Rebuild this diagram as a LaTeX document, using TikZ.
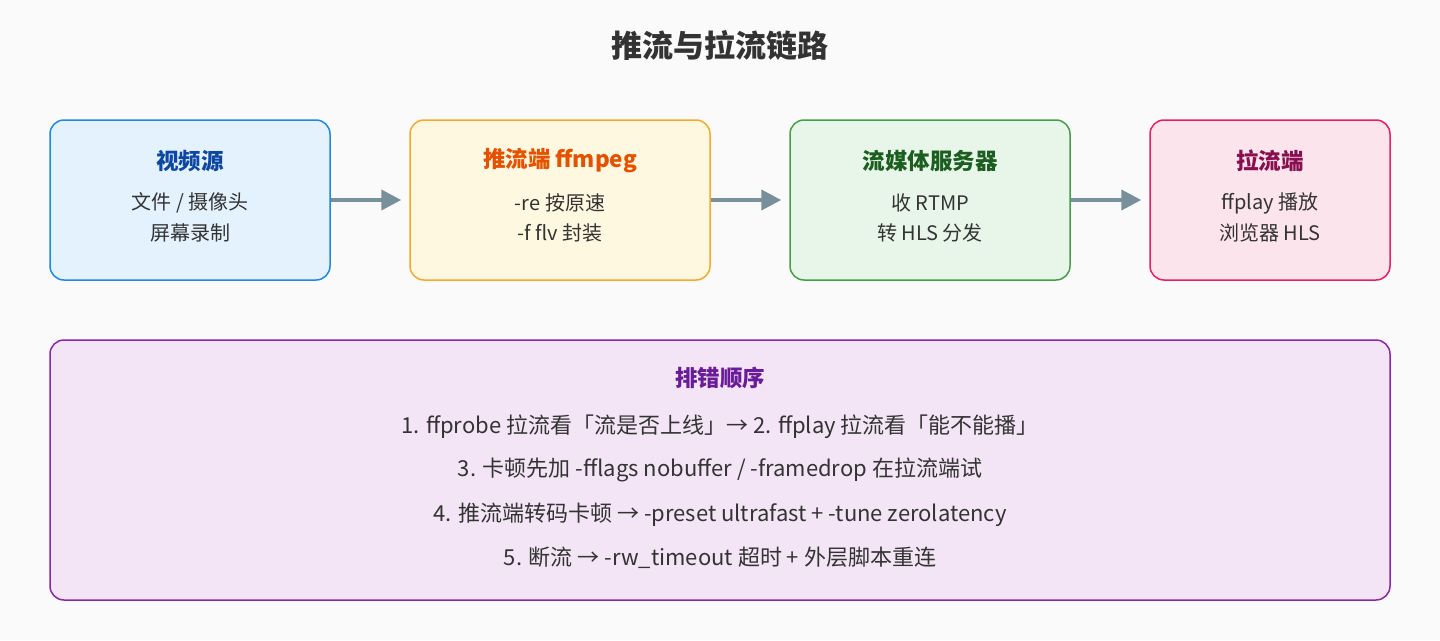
\documentclass[tikz,border=0pt]{standalone}
\usepackage{fontspec}
\setmainfont{Noto Sans CJK SC}
\usetikzlibrary{arrows.meta}
\definecolor{bg}{HTML}{FAFAFA}
\definecolor{arr}{HTML}{78909C}
\definecolor{f1}{HTML}{E3F2FD}\definecolor{b1}{HTML}{1E88E5}\definecolor{t1}{HTML}{0D47A1}
\definecolor{f2}{HTML}{FFF8E1}\definecolor{b2}{HTML}{F9A825}\definecolor{t2}{HTML}{E65100}
\definecolor{f3}{HTML}{E8F5E9}\definecolor{b3}{HTML}{43A047}\definecolor{t3}{HTML}{1B5E20}
\definecolor{f4}{HTML}{FCE4EC}\definecolor{b4}{HTML}{E91E63}\definecolor{t4}{HTML}{880E4F}
\definecolor{f5}{HTML}{F3E5F5}\definecolor{b5}{HTML}{8E24AA}\definecolor{t5}{HTML}{6A1B9A}
\definecolor{txt}{HTML}{333333}
\tikzset{x=1pt,y=-1pt,
 box/.style={draw, line width=1.5pt, rounded corners=14pt, inner sep=0pt},
 ttl/.style={font=\fontsize{22.5}{26}\selectfont\bfseries},
 body/.style={font=\fontsize{20}{24}\selectfont, text=txt},
 lst/.style={font=\fontsize{22}{26}\selectfont, text=txt},
 ar/.style={draw=arr, line width=4pt, -{Triangle[length=20pt,width=20pt]}, shorten >=8pt}}
\begin{document}
\begin{tikzpicture}
\fill[bg] (0,0) rectangle (1440,640);
\useasboundingbox (0,0) rectangle (1440,640);
\node[font=\fontsize{31}{34}\selectfont\bfseries, text=txt] (title) at (720,45) {推流与拉流链路};
\node[box, draw=b1, fill=f1, minimum width=280pt, minimum height=160pt] (n1) at (190,200) {};
\node[box, draw=b2, fill=f2, minimum width=300pt, minimum height=160pt] (n2) at (560,200) {};
\node[box, draw=b3, fill=f3, minimum width=280pt, minimum height=160pt] (n3) at (930,200) {};
\node[box, draw=b4, fill=f4, minimum width=240pt, minimum height=160pt] (n4) at (1270,200) {};
\node[ttl, text=t1] (a1) at (190,161) {视频源};
\node[body] (a2) at (190,203) {文件 / 摄像头};
\node[body] (a3) at (190,233) {屏幕录制};
\node[ttl, text=t2] (b1t) at (560,161) {推流端 ffmpeg};
\node[body] (b2t) at (560,203) {-re 按原速};
\node[body] (b3t) at (560,233) {-f flv 封装};
\node[ttl, text=t3] (c1) at (930,161) {流媒体服务器};
\node[body] (c2) at (930,203) {收 RTMP};
\node[body] (c3) at (930,233) {转 HLS 分发};
\node[ttl, text=t4] (d1) at (1270,161) {拉流端};
\node[body] (d2) at (1270,203) {ffplay 播放};
\node[body] (d3) at (1270,233) {浏览器 HLS};
\draw[ar] (n1.east) -- (n2.west);
\draw[ar] (n2.east) -- (n3.west);
\draw[ar] (n3.east) -- (n4.west);
\node[box, draw=b5, fill=f5, minimum width=1340pt, minimum height=260pt] (p) at (720,470) {};
\node[ttl, text=t5] (p0) at (720,378) {排错顺序};
\node[lst] (p1) at (720,427) {1. ffprobe 拉流看「流是否上线」→ 2. ffplay 拉流看「能不能播」};
\node[lst] (p2) at (720,470) {3. 卡顿先加 -fflags nobuffer / -framedrop 在拉流端试};
\node[lst] (p3) at (720,515) {4. 推流端转码卡顿 → -preset ultrafast + -tune zerolatency};
\node[lst] (p4) at (720,558) {5. 断流 → -rw\_timeout 超时 + 外层脚本重连};
\end{tikzpicture}
\end{document}
